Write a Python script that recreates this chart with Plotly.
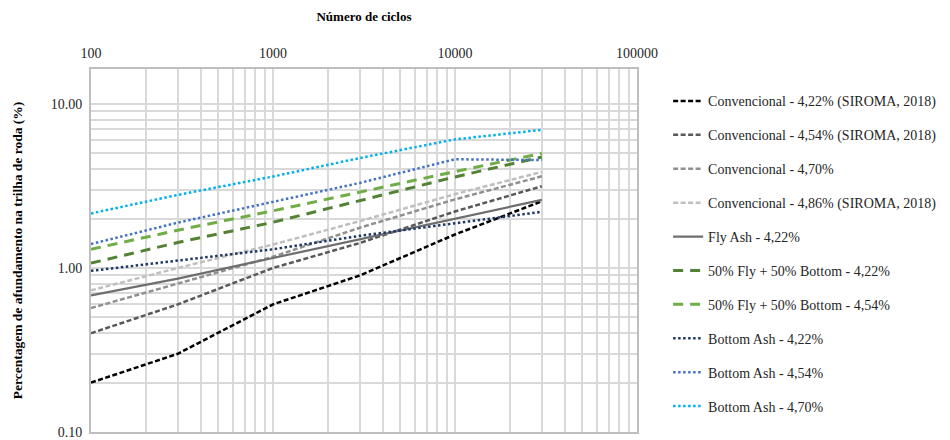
import plotly.graph_objects as go

# Load cycles (log scale)
ciclos = [100, 300, 1000, 3000, 10000, 30000]

# Rut depth (%) for each mixture
conv_422 = [0.20, 0.30, 0.60, 0.90, 1.60, 2.55]
conv_454 = [0.40, 0.60, 1.00, 1.42, 2.21, 3.15]
conv_470 = [0.57, 0.80, 1.17, 1.76, 2.62, 3.62]
conv_486 = [0.73, 1.00, 1.39, 1.93, 2.82, 3.85]
fly_422 = [0.68, 0.86, 1.15, 1.50, 2.00, 2.60]
fb_422 = [1.07, 1.43, 1.90, 2.57, 3.59, 4.75]
fb_454 = [1.30, 1.70, 2.23, 2.91, 3.87, 5.00]
ba_422 = [0.96, 1.11, 1.30, 1.57, 1.88, 2.20]
ba_454 = [1.40, 1.89, 2.53, 3.30, 4.60, 4.55]
ba_470 = [2.15, 2.79, 3.61, 4.68, 6.08, 6.95]

nomes = [
    "Convencional - 4,22% (SIROMA, 2018)",
    "Convencional - 4,54% (SIROMA, 2018)",
    "Convencional - 4,70%",
    "Convencional - 4,86% (SIROMA, 2018)",
    "Fly Ash - 4,22%",
    "50% Fly + 50% Bottom - 4,22%",
    "50% Fly + 50% Bottom - 4,54%",
    "Bottom Ash - 4,22%",
    "Bottom Ash - 4,54%",
    "Bottom Ash - 4,70%",
]
series = [conv_422, conv_454, conv_470, conv_486, fly_422,
          fb_422, fb_454, ba_422, ba_454, ba_470]

x_ticks = [100, 1000, 10000, 100000]
x_ticktext = ["100", "1000", "10000", "100000"]
y_ticks = [0.1, 1, 10]
y_ticktext = ["0.10", "1.00", "10.00"]

curto = "5px,2.5px"
longo = "10px,7px"
ponto = "2.5px,2.5px"
estilos = [
    dict(color="#000000", dash=curto, width=2.5),
    dict(color="#595959", dash=curto, width=2.5),
    dict(color="#909090", dash=curto, width=2.5),
    dict(color="#bfbfbf", dash=curto, width=2.5),
    dict(color="#6e6e6e", dash="solid", width=2.25),
    dict(color="#548235", dash=longo, width=3),
    dict(color="#70ad47", dash=longo, width=3),
    dict(color="#203864", dash=ponto, width=2.5),
    dict(color="#4472c4", dash=ponto, width=2.5),
    dict(color="#00b0f0", dash=ponto, width=2.5),
]

fig = go.Figure()
for i, (nome, ys, st) in enumerate(zip(nomes, series, estilos)):
    fig.add_trace(go.Scatter(
        x=ciclos, y=ys, mode="lines", name=nome, line=st,
        legendgroup=f"g{i}",
    ))

minor_x = [k * 10 ** d for d in range(2, 5) for k in range(2, 10)]
minor_y = [k * 10 ** d for d in range(-1, 2) for k in range(2, 10)]

serif = "Liberation Serif"
grid = "#d9d9d9"

fig.update_layout(
    width=950, height=440,
    margin=dict(l=91, r=309, t=69, b=8),
    paper_bgcolor="white", plot_bgcolor="white",
    font=dict(family=serif, size=14, color="#262626"),
    showlegend=True,
    legend=dict(
        x=1.057, xanchor="left", y=0.955, yanchor="top",
        font=dict(family=serif, size=14, color="#262626"),
        tracegroupgap=12.7, bgcolor="rgba(0,0,0,0)",
    ),
    xaxis=dict(
        type="log", range=[2, 5], side="top", automargin=False,
        tickmode="array", tickvals=x_ticks, ticktext=x_ticktext,
        showgrid=True, gridcolor=grid, gridwidth=1.5,
        minor=dict(tickmode="array", tickvals=minor_x, showgrid=True,
                   gridcolor=grid, gridwidth=1.5, ticks=""),
        showline=True, linecolor="#bfbfbf", linewidth=2, mirror=True,
        ticks="", zeroline=False, ticklabelstandoff=3,
        ticklabeloverflow="allow",
        title=dict(text="Número de ciclos", standoff=22,
                   font=dict(family=serif, size=13, weight="bold", color="#000000")),
        tickfont=dict(family=serif, size=14, color="#262626"),
    ),
    yaxis=dict(
        type="log", range=[-1, 1.213], automargin=False,
        tickmode="array", tickvals=y_ticks, ticktext=y_ticktext,
        showgrid=True, gridcolor=grid, gridwidth=1.5,
        minor=dict(tickmode="array", tickvals=minor_y, showgrid=True,
                   gridcolor=grid, gridwidth=1.5, ticks=""),
        showline=True, linecolor="#bfbfbf", linewidth=2, mirror=True,
        ticks="", zeroline=False, ticklabelstandoff=4,
        ticklabeloverflow="allow",
        title=dict(text="Percentagem de afundamento na trilha de roda (%)", standoff=25,
                   font=dict(family=serif, size=13.5, weight="bold", color="#000000")),
        tickfont=dict(family=serif, size=14, color="#262626"),
    ),
)

fig.write_html("out.html")
